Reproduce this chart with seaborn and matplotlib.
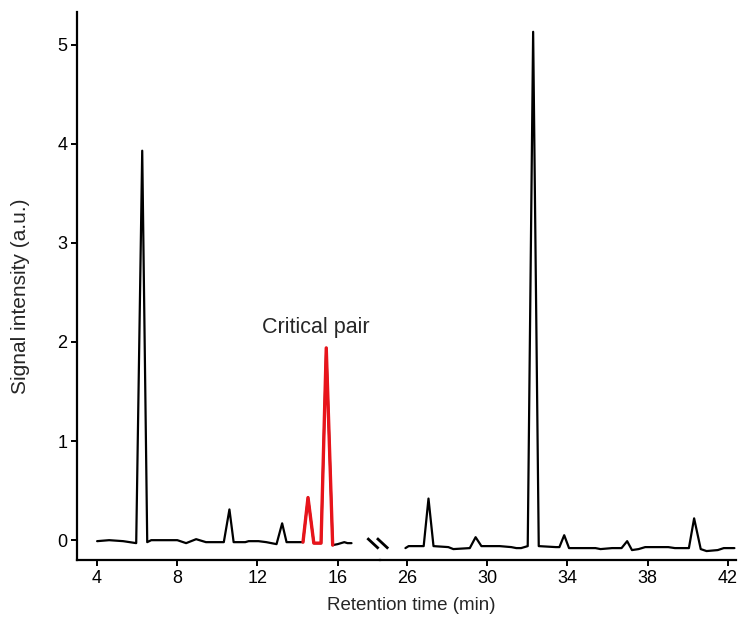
import matplotlib
matplotlib.use("Agg")
import matplotlib.pyplot as plt
import numpy as np
import pandas as pd
import seaborn as sns

# Chromatogram, early window (min, a.u.)
left_time = [4.0, 4.6, 5.3, 5.95, 6.25, 6.5, 6.7, 8.0, 8.44, 8.94, 9.43, 10.32,
             10.6, 10.81, 11.39, 11.56, 12.05, 12.44, 12.95, 13.23, 13.45, 14.27,
             14.52, 14.81, 15.17, 15.43, 15.75, 16.0, 16.33, 16.49, 16.69]
left_signal = [-0.01, 0.0, -0.01, -0.03, 3.93, -0.02, 0.0, 0.0, -0.03, 0.01, -0.02, -0.02,
               0.31, -0.02, -0.02, -0.01, -0.01, -0.02, -0.04, 0.17, -0.02, -0.02,
               0.43, -0.03, -0.03, 1.94, -0.05, -0.04, -0.02, -0.03, -0.03]

# Chromatogram, late window
right_time = [25.92, 26.08, 26.83, 27.07, 27.32, 28.06, 28.31, 29.13, 29.42, 29.71,
              30.62, 31.2, 31.45, 31.69, 32.02, 32.29, 32.57, 33.43, 33.6, 33.84,
              34.08, 35.4, 35.65, 36.23, 36.7, 36.98, 37.22, 37.55, 37.88, 39.03,
              39.36, 40.06, 40.32, 40.65, 40.94, 41.5, 41.8, 42.33]
right_signal = [-0.08, -0.06, -0.06, 0.42, -0.06, -0.07, -0.09, -0.08, 0.03, -0.06,
                -0.06, -0.07, -0.08, -0.08, -0.06, 5.13, -0.06, -0.07, -0.07, 0.05,
                -0.08, -0.08, -0.09, -0.08, -0.08, -0.01, -0.10, -0.09, -0.07, -0.07,
                -0.08, -0.08, 0.22, -0.09, -0.11, -0.10, -0.08, -0.08]

# Elution window of the critical pair
pair_window = (14.27, 15.75)

left_ticks = [4, 8, 12, 16]
right_ticks = [26, 30, 34, 38, 42]
y_ticks = [0, 1, 2, 3, 4, 5]

sns.set_theme(style="ticks")
plt.rcParams["font.family"] = ["Liberation Sans", "DejaVu Sans"]

left = pd.DataFrame({"time": left_time, "signal": left_signal})
right = pd.DataFrame({"time": right_time, "signal": right_signal})
pair = left[(left["time"] >= pair_window[0]) & (left["time"] <= pair_window[1])]

xlim_left = (3.0, 18.12)
xlim_right = (24.66, 42.4)

fig = plt.figure(figsize=(7.41, 6.17), dpi=100)
gs = fig.add_gridspec(
    1, 2,
    width_ratios=[xlim_left[1] - xlim_left[0], xlim_right[1] - xlim_right[0]],
    left=0.104, right=0.993, bottom=0.0924, top=0.9806, wspace=0.0,
)
ax1 = fig.add_subplot(gs[0])
ax2 = fig.add_subplot(gs[1], sharey=ax1)

line_kw = dict(estimator=None, sort=False, legend=False)
sns.lineplot(data=left, x="time", y="signal", ax=ax1, color="black", lw=1.6, **line_kw)
sns.lineplot(data=pair, x="time", y="signal", ax=ax1, color="#e8141b", lw=2.4, **line_kw)
sns.lineplot(data=right, x="time", y="signal", ax=ax2, color="black", lw=1.6, **line_kw)

ax1.set_xlim(*xlim_left)
ax2.set_xlim(*xlim_right)
ax1.set_ylim(-0.2, 5.33)
ax1.set_yticks(y_ticks)
ax1.set_xticks(left_ticks)
ax2.set_xticks(right_ticks)

for ax in (ax1, ax2):
    ax.set_xlabel("")
    ax.set_ylabel("")
    ax.spines["top"].set_visible(False)
    ax.spines["right"].set_visible(False)
    for s in ax.spines.values():
        s.set_linewidth(1.6)
        s.set_color("black")
    ax.tick_params(axis="both", width=1.4, length=4, labelsize=13,
                   color="black", labelcolor="black", pad=3)
    ax.patch.set_alpha(0)

ax2.spines["left"].set_visible(False)
ax2.tick_params(axis="y", left=False, labelleft=False)

# Axis break marks between the two windows
xb = xlim_left[1]
for dx in (-0.64, -0.16):
    ax1.plot([xb + dx, xb + dx + 0.56], [0.02, -0.085], color="black",
             lw=2.0, clip_on=False, solid_capstyle="butt")

ax1.text(14.91, 2.15, "Critical pair", ha="center", va="center", fontsize=15.5)

fig.text(21 / 741, 1 - 296 / 617, "Signal intensity (a.u.)", ha="center",
         va="center", rotation=90, fontsize=15)
fig.text(411 / 741, 1 - 606 / 617, "Retention time (min)", ha="center",
         va="center", fontsize=13.5)

fig.savefig("out.png", dpi=100)
